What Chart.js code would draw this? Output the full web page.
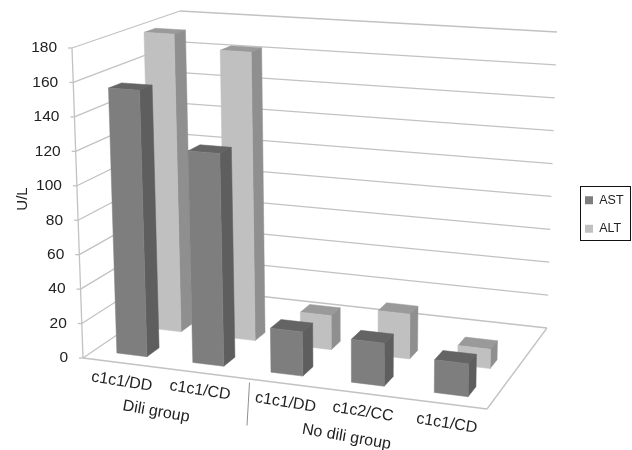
<!DOCTYPE html>
<html><head><meta charset="utf-8">
<style>html,body{margin:0;padding:0;background:#fff}canvas{display:block;filter:blur(0.35px)}</style>
<script src="https://cdn.jsdelivr.net/npm/chart.js@4"></script>
</head><body><canvas id="c" width="632" height="450"></canvas>
<script>
const categories = ['c1c1/DD','c1c1/CD','c1c1/DD','c1c2/CC','c1c1/CD'];
const groupNames = ['Dili group','No dili group'];
const seriesNames = ['AST','ALT'];
const astValues = [155,122,25,24,18];
const altValues = [180,172,20,26,11];
const yTickMax = 180;
const yTickStep = 20;

// Look of the 3-D box (corners are u/w unit square of floor and top planes)
const FLOOR = [[83,358],[487,409],[547,328],[186,288]];
const CEIL  = [[72,48],[492,75],[557,32],[180,11]];
const ROW_DEPTH = [[0.10,0.214],[0.43,0.54]];
const FACES = [
  {front:'#7e7e7e',side:'#5e5e5e',top:'#646464'},
  {front:'#c0c0c0',side:'#8f8f8f',top:'#9a9a9a'}
];
const GRID = '#c2c2c2', TEXT = '#222222';
const FONT = 'Liberation Sans, Arial, sans-serif';
const LABEL_SHIFT = [[1,19],[2,18],[8,20],[3.5,19],[3,20]];
const GROUP_SPEC = [[0.2,-3,44],[0.7,-13,44]];
const TEXT_ANGLE = 9*Math.PI/180;
const GROUP_ANGLE = 10*Math.PI/180;

function solve(q){
  const [[x0,y0],[x1,y1],[x2,y2],[x3,y3]] = q;
  const dx1=x1-x2,dx2=x3-x2,sx=x0-x1+x2-x3,dy1=y1-y2,dy2=y3-y2,sy=y0-y1+y2-y3;
  const den=dx1*dy2-dx2*dy1, g=(sx*dy2-dx2*sy)/den, h=(dx1*sy-sx*dy1)/den;
  const a=x1-x0+g*x1,b=x3-x0+h*x3,d=y1-y0+g*y1,e=y3-y0+h*y3;
  return (u,w)=>{const k=g*u+h*w+1;return [(a*u+b*w+x0)/k,(d*u+e*w+y0)/k];};
}
const floorH=solve(FLOOR), ceilH=solve(CEIL);
function P(u,w,t){
  const a=floorH(u,w),b=ceilH(u,w);
  return [a[0]+(b[0]-a[0])*t,a[1]+(b[1]-a[1])*t];
}
function poly(ctx,pts,fill){
  ctx.beginPath();pts.forEach((p,i)=>i?ctx.lineTo(p[0],p[1]):ctx.moveTo(p[0],p[1]));ctx.closePath();
  ctx.fillStyle=fill;ctx.fill();
  ctx.strokeStyle=fill;ctx.lineWidth=0.5;ctx.stroke();
}
function seg(ctx,a,b){ctx.beginPath();ctx.moveTo(a[0],a[1]);ctx.lineTo(b[0],b[1]);ctx.stroke();}

const box3d = {
  id:'box3d',
  afterLayout(chart){
    const l=chart.legend;
    l.left=569;l.right=632;l.top=178;l.bottom=300;
  },
  beforeDatasetsDraw(chart){
    const ctx=chart.ctx,y=chart.scales.y,x=chart.scales.x;
    ctx.save();
    ctx.strokeStyle=GRID;ctx.lineWidth=1.3;
    y.ticks.forEach(tk=>{
      const t=(y.bottom-y.getPixelForValue(tk.value))/y.height;
      seg(ctx,P(0,0,t),P(0,1,t));seg(ctx,P(0,1,t),P(1,1,t));
      const f=P(0,0,t);seg(ctx,[f[0]-4,f[1]],f);
    });
    seg(ctx,P(0,0,0),P(0,0,1));
    seg(ctx,P(0,0,0),P(1,0,0));seg(ctx,P(1,0,0),P(1,1,0));
    // axis text
    ctx.fillStyle=TEXT;ctx.font='15.5px '+FONT;ctx.textBaseline='middle';
    y.ticks.forEach(tk=>{
      const t=(y.bottom-y.getPixelForValue(tk.value))/y.height,f=P(0,0,t);
      ctx.textAlign='right';ctx.fillText(tk.label,f[0]-15,f[1]);
    });
    ctx.textAlign='center';ctx.font='16px '+FONT;
    const rot=(s,px,py,ang)=>{ctx.save();ctx.translate(px,py);ctx.rotate(ang);ctx.fillText(s,0,0);ctx.restore();};
    x.ticks.forEach((tk,i)=>{
      const u=(x.getPixelForValue(i)-x.left)/x.width,f=P(u,0,0);
      rot(x.getLabelForValue(i),f[0]+LABEL_SHIFT[i][0],f[1]+LABEL_SHIFT[i][1],TEXT_ANGLE);
    });
    groupNames.forEach((g,i)=>{
      const s=GROUP_SPEC[i],f=P(s[0],0,0);rot(g,f[0]+s[1],f[1]+s[2],GROUP_ANGLE);
    });
    ctx.strokeStyle='#8f8f8f';ctx.lineWidth=1;
    const b=P(0.4,0,0);seg(ctx,[b[0]+12,b[1]+5],[b[0]+9.5,b[1]+48]);
    ctx.restore();
  },
  beforeDatasetDraw(chart,args){
    const ctx=chart.ctx,y=chart.scales.y,a=chart.chartArea;
    const [w0,w1]=ROW_DEPTH[args.index],c=FACES[args.index];
    ctx.save();
    args.meta.data.forEach(el=>{
      const uc=(el.x-a.left)/a.width,hw=el.width/2/a.width;
      const u0=uc-hw,u1=uc+hw,t=(y.bottom-el.y)/y.height;
      poly(ctx,[P(u0,w0,t),P(u1,w0,t),P(u1,w1,t),P(u0,w1,t)],c.top);
      poly(ctx,[P(u1,w0,0),P(u1,w1,0),P(u1,w1,t),P(u1,w0,t)],c.side);
      poly(ctx,[P(u0,w0,0),P(u1,w0,0),P(u1,w0,t),P(u0,w0,t)],c.front);
    });
    ctx.restore();
    return false;
  },
  afterDraw(chart){
    const ctx=chart.ctx;ctx.save();ctx.strokeStyle='#111';ctx.lineWidth=1;
    ctx.strokeRect(580.5,186.5,50,54);ctx.restore();
  }
};

new Chart(document.getElementById('c'),{
  type:'bar',
  data:{labels:categories,datasets:[
    {label:seriesNames[0],data:astValues,backgroundColor:FACES[0].front,barPercentage:0.4,categoryPercentage:1,grouped:false},
    {label:seriesNames[1],data:altValues,backgroundColor:FACES[1].front,barPercentage:0.4,categoryPercentage:1,grouped:false}
  ]},
  options:{
    responsive:false,animation:false,
    layout:{padding:{left:14,top:48,bottom:92,right:0}},
    plugins:{
      tooltip:{enabled:false},
      legend:{position:'right',align:'start',
        labels:{boxWidth:8,boxHeight:8,padding:16,color:TEXT,font:{family:FONT,size:12.5}}}
    },
    scales:{
      x:{grid:{display:false},border:{display:false},ticks:{display:false}},
      y:{min:0,max:yTickMax,grid:{display:false},border:{display:false},
        ticks:{display:false,stepSize:yTickStep},
        title:{display:true,text:'U/L',color:TEXT,padding:0,font:{family:FONT,size:15}}}
    }
  },
  plugins:[box3d]
});
</script></body></html>
